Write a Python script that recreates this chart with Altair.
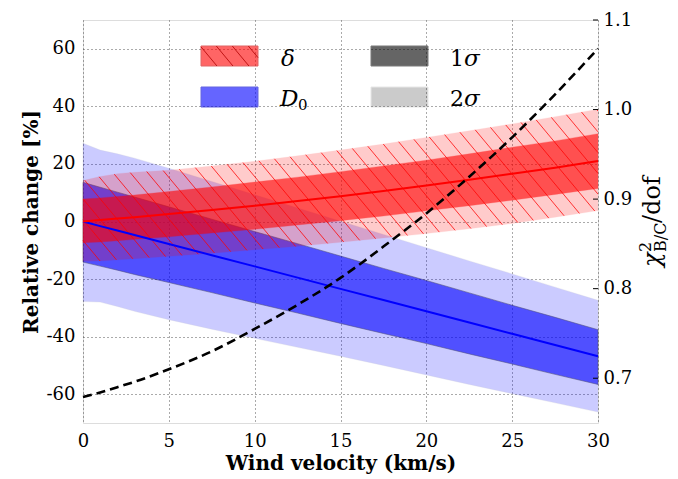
import numpy as np
import pandas as pd
import altair as alt

# ---------------------------------------------------------------- data
# wind velocity grid (km/s)
wind = [0, 1, 2, 3, 5, 7.5, 10, 12.5, 15, 17.5, 20, 22.5, 25, 27.5, 30]

# D0: relative change [%], median and 1/2 sigma envelopes
d0_mid = [0, -1.6, -3.1, -4.7, -7.8, -11.7, -15.6, -19.5, -23.4, -27.3, -31.2, -35.1, -39.0, -42.9, -46.8]
d0_1s_hi = [13.6, 11.9, 10.2, 8.5, 5.1, 0.8, -3.5, -7.7, -12.0, -16.3, -20.5, -24.8, -29.1, -33.3, -37.6]
d0_1s_lo = [-14.1, -15.5, -16.9, -18.4, -21.2, -24.7, -28.3, -31.8, -35.4, -38.9, -42.4, -46.0, -49.5, -53.1, -56.6]
d0_2s_hi = [27.2, 24.8, 23.5, 22.0, 18.5, 13.9, 9.3, 4.7, 0.1, -4.5, -9.1, -13.7, -18.2, -22.8, -27.4]
d0_2s_lo = [-27.8, -28.0, -29.5, -31.2, -34.1, -37.4, -40.6, -43.7, -46.8, -50.0, -53.3, -56.6, -59.8, -63.0, -66.2]

# delta: relative change [%], median and 1/2 sigma envelopes
delta_mid = [0, 0.5, 1.0, 1.5, 2.6, 4.0, 5.5, 7.1, 8.8, 10.6, 12.5, 14.5, 16.6, 18.7, 21.0]
delta_1s_hi = [7.8, 8.2, 8.7, 9.2, 10.4, 12.0, 13.7, 15.4, 17.3, 19.3, 21.3, 23.5, 25.8, 28.0, 30.5]
delta_1s_lo = [-7.4, -7.1, -6.7, -6.2, -5.3, -4.0, -2.7, -1.2, 0.3, 1.9, 3.7, 5.5, 7.4, 9.4, 11.5]
delta_2s_hi = [14.2, 15.6, 16.6, 17.1, 17.8, 19.3, 20.9, 22.8, 24.8, 26.9, 29.2, 31.5, 33.9, 36.4, 39.0]
delta_2s_lo = [-13.8, -13.7, -13.3, -12.9, -12.1, -11.0, -9.8, -8.6, -7.2, -5.7, -4.2, -2.5, -0.7, 1.5, 3.8]

# chi^2_{B/C}/dof of the fit (right axis)
chi2_dof = [0.679, 0.684, 0.690, 0.696, 0.710, 0.730, 0.755, 0.782, 0.812, 0.847, 0.884, 0.925, 0.969, 1.017, 1.068]

# axis ticks
x_ticks = [0, 5, 10, 15, 20, 25, 30]
left_ticks = [-60, -40, -20, 0, 20, 40, 60]
right_ticks = [0.7, 0.8, 0.9, 1.0, 1.1]

# ---------------------------------------------------------------- layout / style
W, H = 515, 403
X_DOM, L_DOM, R_DOM = [0, 30], [-70, 70], [0.65, 1.1]
FONT = "'DejaVu Serif', 'Liberation Serif', serif"
RED, BLUE = "#ff0000", "#0000ff"
HATCH_SLOPE = 1.2   # screen dy/dx of the "\\" hatch
HATCH_GAP = 17.3    # horizontal pixel spacing of hatch lines

df = pd.DataFrame({
    "x": wind,
    "b_mid": d0_mid, "b1_hi": d0_1s_hi, "b1_lo": d0_1s_lo,
    "b2_hi": d0_2s_hi, "b2_lo": d0_2s_lo,
    "r_mid": delta_mid, "r1_hi": delta_1s_hi, "r1_lo": delta_1s_lo,
    "r2_hi": delta_2s_hi, "r2_lo": delta_2s_lo,
    "chi": chi2_dof,
})

# hatch segments clipped to the delta 2-sigma envelope
sx = W / (X_DOM[1] - X_DOM[0])
sy = H / (L_DOM[1] - L_DOM[0])
m = HATCH_SLOPE * sx / sy
step = HATCH_GAP / sx * m
xs = np.linspace(X_DOM[0], X_DOM[1], 3001)
up = np.interp(xs, wind, delta_2s_hi)
lo = np.interp(xs, wind, delta_2s_lo)
segs = []
for k in np.arange(lo.min() - 3 * step, up.max() + m * X_DOM[1] + step, step):
    line = k - m * xs
    x_a = float(np.interp(0.0, -(line - up), xs))
    x_b = float(np.interp(0.0, -(line - lo), xs))
    if x_b - x_a > 1e-3:
        segs.append({"x": x_a, "y": k - m * x_a, "x2": x_b, "y2": k - m * x_b})
hatch_df = pd.DataFrame(segs)

xscale = alt.Scale(domain=X_DOM, nice=False, zero=False)
lscale = alt.Scale(domain=L_DOM, nice=False, zero=False)
rscale = alt.Scale(domain=R_DOM, nice=False, zero=False)

axis_style = dict(labelFont=FONT, labelFontSize=18, labelColor="black",
                  titleFont=FONT, titleFontSize=20, titleFontWeight="bold",
                  titleColor="black")
x_axis = alt.Axis(values=x_ticks, grid=True, gridDash=[1, 3], gridColor="#555",
                  gridWidth=1, domain=False, ticks=False, labelPadding=9,
                  labelFlush=False, titlePadding=3, **axis_style)
l_axis = alt.Axis(values=left_ticks, grid=True, gridDash=[1, 3], gridColor="#555",
                  gridWidth=1, domain=False, ticks=False, labelPadding=8,
                  labelExpr="datum.value < 0 ? '-' + abs(datum.value) : '' + datum.value",
                  titlePadding=5, **axis_style)
r_axis = alt.Axis(orient="right", values=right_ticks, format=".1f", grid=False,
                  domain=False, ticks=False, labelPadding=5, title=None, **axis_style)

XT = "Wind velocity (km/s)"
YT = "Relative change [%]"


def X(f):
    return alt.X(f, type="quantitative", scale=xscale, axis=x_axis, title=XT)


def Y(f):
    return alt.Y(f, type="quantitative", scale=lscale, axis=l_axis, title=YT)


base = alt.Chart(df)


def band(lo_f, hi_f, color, opacity, stroke, stroke_op):
    return base.mark_area(color=color, opacity=opacity, stroke=stroke,
                          strokeOpacity=stroke_op, strokeWidth=1).encode(
        x=X("x"), y=Y(lo_f), y2=alt.Y2(hi_f))


blue2 = band("b2_lo", "b2_hi", BLUE, 0.2, "#000044", 0.25)
blue1 = band("b1_lo", "b1_hi", BLUE, 0.6, "#000022", 0.55)
red2 = band("r2_lo", "r2_hi", RED, 0.2, RED, 0.25)
hatch = alt.Chart(hatch_df).mark_rule(color=RED, strokeWidth=0.9, opacity=0.85).encode(
    x=X("x"), y=Y("y"), x2=alt.X2("x2"), y2=alt.Y2("y2"))
red1 = band("r1_lo", "r1_hi", RED, 0.6, RED, 0.3)
blue_line = base.mark_line(color=BLUE, strokeWidth=2).encode(x=X("x"), y=Y("b_mid"))
red_line = base.mark_line(color=RED, strokeWidth=2).encode(x=X("x"), y=Y("r_mid"))

left = alt.layer(blue2, blue1, red2, hatch, red1, blue_line, red_line)

chi_line = base.mark_line(color="black", strokeWidth=2.6, strokeDash=[9, 5],
                          interpolate="monotone").encode(
    x=X("x"), y=alt.Y("chi:Q", scale=rscale, axis=r_axis, title=None))
rt_df = pd.DataFrame({"v": right_ticks})
r_ticks = alt.Chart(rt_df).mark_rule(color="black", strokeWidth=1).encode(
    x=alt.value(W - 5), x2=alt.value(W),
    y=alt.Y("v:Q", scale=rscale, axis=r_axis, title=None))
right = alt.layer(chi_line, r_ticks)


# ---------------------------------------------------------------- legend & right title
def txt(s, px, py, size, style="normal", angle=0):
    return alt.Chart(pd.DataFrame({"t": [s]})).mark_text(
        align="left", baseline="alphabetic", font=FONT, fontSize=size,
        fontStyle=style, angle=angle, color="black").encode(
        x=alt.value(px), y=alt.value(py), text="t:N")


def swatch(x0, y0, color, opacity, stroke):
    return alt.Chart(pd.DataFrame({"t": [0]})).mark_rect(
        color=color, opacity=opacity, stroke=stroke, strokeWidth=1).encode(
        x=alt.value(x0), x2=alt.value(x0 + 57), y=alt.value(y0), y2=alt.value(y0 + 20))


decor = [
    swatch(118, 26, RED, 0.6, "#cc0000"),
    swatch(118, 67, BLUE, 0.6, "#0000cc"),
    swatch(288, 26, "black", 0.6, "#222"),
    swatch(288, 67, "black", 0.2, "#888"),
]
# hatch inside the delta swatch
lg = []
for c in np.arange(118 - 16.7, 118 + 57, 16.0):
    xa, ya = c, 26.0
    xb, yb = c + 20 / HATCH_SLOPE, 46.0
    if xa < 118:
        ya += (118 - xa) * HATCH_SLOPE
        xa = 118
    if xb > 175:
        yb -= (xb - 175) * HATCH_SLOPE
        xb = 175
    if xb > xa:
        lg.append({"a": xa, "b": ya, "c": xb, "d": yb})
for s in lg:
    decor.append(alt.Chart(pd.DataFrame({"t": [0]})).mark_rule(
        color="#b00000", strokeWidth=0.8).encode(
        x=alt.value(s["a"]), y=alt.value(s["b"]), x2=alt.value(s["c"]), y2=alt.value(s["d"])))

decor += [
    txt("δ", 198, 46, 23, "italic"),
    txt("D", 197, 86, 23, "italic"),
    txt("0", 215, 90, 15),
    txt("1", 367, 46, 22),
    txt("σ", 381, 46, 23, "italic"),
    txt("2", 367, 86, 22),
    txt("σ", 381, 86, 23, "italic"),
    # right-axis title: chi^2_{B/C}/dof, reading upwards
    txt("χ", 577, 247, 24, "italic", 270),
    txt("2", 568, 232, 16, "normal", 270),
    txt("B/C", 583, 232, 16, "normal", 270),
    txt("/dof", 577, 203, 24, "normal", 270),
]

chart = alt.layer(left, right, *decor).resolve_scale(y="independent").properties(
    width=W, height=H,
    padding={"left": 83, "top": 20, "right": 80, "bottom": 56},
    autosize=alt.AutoSizeParams(type="none"),
).configure_view(stroke="black", strokeWidth=1.5).configure(
    background="white", font=FONT
)

chart.save("out.html", embed_options={"renderer": "svg", "actions": False})
